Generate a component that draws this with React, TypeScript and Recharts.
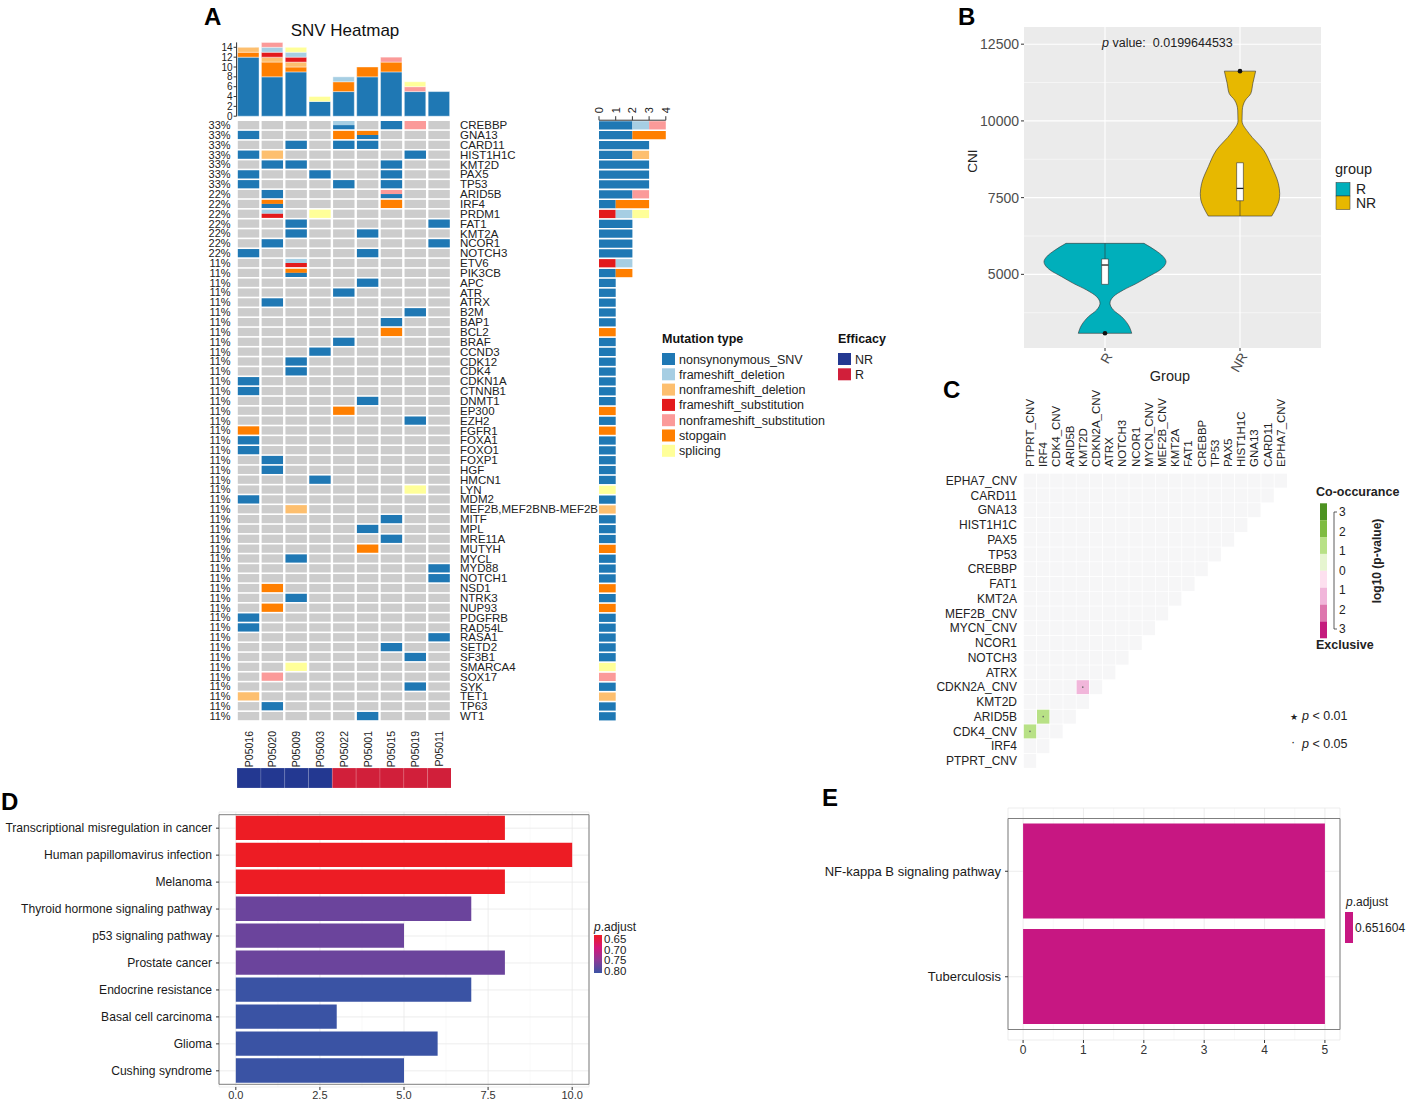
import React from "react";
import {
  BarChart,
  Bar,
  XAxis,
  YAxis,
  Cell,
  ScatterChart,
  Scatter,
  ComposedChart,
  Area,
  CartesianGrid,
  ReferenceLine,
  ReferenceArea,
  ReferenceDot,
} from "recharts";

const FONT = '"Liberation Sans", Arial, Helvetica, sans-serif';

// ---------- A: SNV heatmap ----------
const samples = ["P05016", "P05020", "P05009", "P05003", "P05022", "P05001", "P05015", "P05019", "P05011"];
const efficacy = ["NR", "NR", "NR", "NR", "R", "R", "R", "R", "R"];
const efficacyColors: Record<string, string> = { NR: "#233891", R: "#d11f3a" };

const mutationNames = [
  "nonsynonymous_SNV",
  "frameshift_deletion",
  "nonframeshift_deletion",
  "frameshift_substitution",
  "nonframeshift_substitution",
  "stopgain",
  "splicing",
];
const mutationCodes = ["N", "FD", "ND", "FS", "NS", "SG", "SP"];
const mutationColors = ["#1f78b4", "#a6cee3", "#fdbf6f", "#e31a1c", "#fb9a99", "#ff7f00", "#ffff99"];
const topStackOrder = ["N", "SG", "ND", "FS", "FD", "NS", "SP"];
const sideStackOrder = ["N", "FS", "FD", "ND", "SG", "NS", "SP"];
const topTicks = [0, 2, 4, 6, 8, 10, 12, 14];
const sideTicks = [0, 1, 2, 3, 4];

const genes = [
  "CREBBP", "GNA13", "CARD11", "HIST1H1C", "KMT2D", "PAX5", "TP53", "ARID5B", "IRF4", "PRDM1",
  "FAT1", "KMT2A", "NCOR1", "NOTCH3", "ETV6", "PIK3CB", "APC", "ATR", "ATRX", "B2M",
  "BAP1", "BCL2", "BRAF", "CCND3", "CDK12", "CDK4", "CDKN1A", "CTNNB1", "DNMT1", "EP300",
  "EZH2", "FGFR1", "FOXA1", "FOXO1", "FOXP1", "HGF", "HMCN1", "LYN", "MDM2", "MEF2B,MEF2BNB-MEF2B",
  "MITF", "MPL", "MRE11A", "MUTYH", "MYCL", "MYD88", "NOTCH1", "NSD1", "NTRK3", "NUP93",
  "PDGFRB", "RAD54L", "RASA1", "SETD2", "SF3B1", "SMARCA4", "SOX17", "SYK", "TET1", "TP63",
  "WT1",
];

// one token per sample: "." = none, "A/B" = two hits drawn top/bottom
const geneCalls = [
  ". . . . FD/N . N NS .", // CREBBP
  "N . . . SG SG/N . . .", // GNA13
  ". . N . N N . . .", // CARD11
  "N ND . . . . . N .", // HIST1H1C
  ". N N . . . N . .", // KMT2D
  "N . . N . . N . .", // PAX5
  "N . . . N . N . .", // TP53
  ". N . . . . NS/N . .", // ARID5B
  ". SG/N . . . . SG . .", // IRF4
  ". FD/FS . SP . . . . .", // PRDM1
  ". . N . . . . . N", // FAT1
  ". . N . . N . . .", // KMT2A
  ". N . . . . . . N", // NCOR1
  "N . . . . N . . .", // NOTCH3
  ". . FD/FS . . . . . .", // ETV6
  ". . SG/N . . . . . .", // PIK3CB
  ". . . . . N . . .", // APC
  ". . . . N . . . .", // ATR
  ". N . . . . . . .", // ATRX
  ". . . . . . . N .", // B2M
  ". . . . . . N . .", // BAP1
  ". . . . . . SG . .", // BCL2
  ". . . . N . . . .", // BRAF
  ". . . N . . . . .", // CCND3
  ". . N . . . . . .", // CDK12
  ". . N . . . . . .", // CDK4
  "N . . . . . . . .", // CDKN1A
  "N . . . . . . . .", // CTNNB1
  ". . . . . N . . .", // DNMT1
  ". . . . SG . . . .", // EP300
  ". . . . . . . N .", // EZH2
  "SG . . . . . . . .", // FGFR1
  "N . . . . . . . .", // FOXA1
  "N . . . . . . . .", // FOXO1
  ". N . . . . . . .", // FOXP1
  ". N . . . . . . .", // HGF
  ". . . N . . . . .", // HMCN1
  ". . . . . . . SP .", // LYN
  "N . . . . . . . .", // MDM2
  ". . ND . . . . . .", // MEF2B,MEF2BNB-MEF2B
  ". . . . . . N . .", // MITF
  ". . . . . N . . .", // MPL
  ". . . . . . N . .", // MRE11A
  ". . . . . SG . . .", // MUTYH
  ". . N . . . . . .", // MYCL
  ". . . . . . . . N", // MYD88
  ". . . . . . . . N", // NOTCH1
  ". SG . . . . . . .", // NSD1
  ". . N . . . . . .", // NTRK3
  ". SG . . . . . . .", // NUP93
  "N . . . . . . . .", // PDGFRB
  "N . . . . . . . .", // RAD54L
  ". . . . . . . . N", // RASA1
  ". . . . . . N . .", // SETD2
  ". . . . . . . N .", // SF3B1
  ". . SP . . . . . .", // SMARCA4
  ". NS . . . . . . .", // SOX17
  ". . . . . . . N .", // SYK
  "ND . . . . . . . .", // TET1
  ". N . . . . . . .", // TP63
  ". . . . . N . . .", // WT1
];

// ---------- B: CNI violin ----------
const cniTicks = [5000, 7500, 10000, 12500];
const cniMinor = [3750, 6250, 8750, 11250];
const groupNames = ["R", "NR"];
const groupColors = ["#00AFBB", "#E7B800"];
// half-width of the violin (in group units) at each CNI value
const violinR = [
  { cni: 3079, w: 0.198 }, { cni: 3350, w: 0.173 }, { cni: 3621, w: 0.123 }, { cni: 3838, w: 0.062 },
  { cni: 4056, w: 0.037 }, { cni: 4273, w: 0.062 }, { cni: 4490, w: 0.136 }, { cni: 4707, w: 0.235 },
  { cni: 4924, w: 0.321 }, { cni: 5141, w: 0.407 }, { cni: 5412, w: 0.452 }, { cni: 5575, w: 0.432 },
  { cni: 5792, w: 0.37 }, { cni: 6010, w: 0.289 },
];
const violinNR = [
  { cni: 6900, w: 0.235 }, { cni: 7204, w: 0.272 }, { cni: 7421, w: 0.29 }, { cni: 7638, w: 0.294 },
  { cni: 7964, w: 0.284 }, { cni: 8506, w: 0.235 }, { cni: 9049, w: 0.175 }, { cni: 9592, w: 0.067 },
  { cni: 10000, w: 0.015 }, { cni: 10352, w: 0.017 }, { cni: 10677, w: 0.04 }, { cni: 10894, w: 0.08 },
  { cni: 11220, w: 0.095 }, { cni: 11622, w: 0.116 },
];
const boxStats = [
  { center: 1, q1: 4674, median: 5304, q3: 5500, lower: 4674, upper: 6010, outlier: 3079 },
  { center: 2, q1: 7399, median: 7800, q3: 8637, lower: 6900, upper: 8637, outlier: 11622 },
];

// ---------- C: somatic interactions ----------
const coGenes = [
  "PTPRT_CNV", "IRF4", "CDK4_CNV", "ARID5B", "KMT2D", "CDKN2A_CNV", "ATRX", "NOTCH3", "NCOR1", "MYCN_CNV",
  "MEF2B_CNV", "KMT2A", "FAT1", "CREBBP", "TP53", "PAX5", "HIST1H1C", "GNA13", "CARD11", "EPHA7_CNV",
];
const coSignificant = [
  { a: "ARID5B", b: "IRF4", log10p: 1.5 },
  { a: "CDK4_CNV", b: "PTPRT_CNV", log10p: 1.5 },
  { a: "CDKN2A_CNV", b: "KMT2D", log10p: -1.5 },
];
const coLegendColors = ["#4d9221", "#7fbc41", "#b8e186", "#e6f5d0", "#fde0ef", "#f1b6da", "#de77ae", "#c51b7d"];
const coLegendLabels = ["3", "2", "1", "0", "1", "2", "3"];

// ---------- D: KEGG enrichment ----------
const keggTerms = [
  "Transcriptional misregulation in cancer",
  "Human papillomavirus infection",
  "Melanoma",
  "Thyroid hormone signaling pathway",
  "p53 signaling pathway",
  "Prostate cancer",
  "Endocrine resistance",
  "Basal cell carcinoma",
  "Glioma",
  "Cushing syndrome",
];
const keggCounts = [8, 10, 8, 7, 5, 8, 7, 3, 6, 5];
const keggPadj = [0.648, 0.648, 0.648, 0.77, 0.77, 0.77, 0.805, 0.805, 0.805, 0.805];
const keggTicks = [0, 2.5, 5, 7.5, 10];
const padjLegend = ["0.65", "0.70", "0.75", "0.80"];

// ---------- E: NF-kappa B enrichment ----------
const nfTerms = ["NF-kappa B signaling pathway", "Tuberculosis"];
const nfCounts = [5, 5];
const nfPadj = "0.651604";
const nfTicks = [0, 1, 2, 3, 4, 5];

// ---------- derived tables ----------
const colorOf = (code: string) => mutationColors[mutationCodes.indexOf(code)];
const calls = geneCalls.map((row) => row.split(" ").map((t) => (t === "." ? [] : t.split("/"))));
const heatCells = calls.flatMap((row, gi) => row.map((hits, si) => ({ x: si, y: gi, hits })));
const sampleTotals = samples.map((s, si) => {
  const d: Record<string, any> = { sample: s };
  mutationCodes.forEach((c) => (d[c] = 0));
  calls.forEach((row) => row[si].forEach((c) => d[c]++));
  return d;
});
const geneTotals = genes.map((g, gi) => {
  const d: Record<string, any> = { gene: g };
  mutationCodes.forEach((c) => (d[c] = 0));
  calls[gi].forEach((hits) => hits.forEach((c) => d[c]++));
  return d;
});
const genePct = calls.map((row) => Math.round((row.filter((h) => h.length).length / samples.length) * 100) + "%");
const efficacyRows = samples.map((s, i) => ({ sample: s, v: 1, group: efficacy[i] }));

const violins = [violinR, violinNR].map((pts, gi) => ({
  center: gi + 1,
  color: groupColors[gi],
  data: pts.map((d) => ({ cni: d.cni, span: [gi + 1 - d.w, gi + 1 + d.w] })),
  ends: [pts[0], pts[pts.length - 1]],
  box: boxStats[gi],
}));

const coValue = (r: string, c: string) => {
  const hit = coSignificant.find((s) => (s.a === r && s.b === c) || (s.a === c && s.b === r));
  return hit ? hit.log10p : 0;
};
const coCells = coGenes.flatMap((rg, r) => coGenes.slice(0, r + 1).map((cg, c) => ({ x: c, y: r, v: coValue(rg, cg) })));
const coColor = (v: number) => {
  if (v >= 2.5) return coLegendColors[0];
  if (v >= 1.75) return coLegendColors[1];
  if (v >= 1) return coLegendColors[2];
  if (v <= -2.5) return coLegendColors[7];
  if (v <= -1.75) return coLegendColors[6];
  if (v <= -1) return coLegendColors[5];
  return "#f6f6f7";
};

const keggRows = keggTerms.map((t, i) => ({ term: t, count: keggCounts[i], padj: keggPadj[i] }));
const nfRows = nfTerms.map((t, i) => ({ term: t, count: nfCounts[i] }));

const padjStops = [
  { p: 0.65, c: [237, 28, 36] },
  { p: 0.7, c: [212, 22, 122] },
  { p: 0.75, c: [140, 58, 150] },
  { p: 0.8, c: [58, 83, 164] },
];
const padjColor = (p: number) => {
  if (p <= padjStops[0].p) return `rgb(${padjStops[0].c.join(",")})`;
  for (let i = 1; i < padjStops.length; i++) {
    if (p <= padjStops[i].p) {
      const a = padjStops[i - 1], b = padjStops[i];
      const t = (p - a.p) / (b.p - a.p);
      return `rgb(${a.c.map((v, k) => Math.round(v + (b.c[k] - v) * t)).join(",")})`;
    }
  }
  return `rgb(${padjStops[padjStops.length - 1].c.join(",")})`;
};

// ---------- geometry ----------
const COL_W = 214.4 / samples.length;
const ROW_H = 9.85;
const CELL_W = COL_W - 2.4;
const CELL_H = ROW_H - 1.6;
const CO_W = 264 / coGenes.length;
const CO_H = 295 / coGenes.length;

const rotTick = (label: (v: any) => string, angle: number, anchor: string, fontSize: number, fill: string, dx = 0, dy = 0) =>
  (p: any) => {
    const x = p.x + dx;
    const y = p.y + dy;
    return (
      <text x={x} y={y} transform={`rotate(${angle} ${x} ${y})`} textAnchor={anchor} dominantBaseline="central"
        fontSize={fontSize} fill={fill} fontFamily={FONT}>
        {label(p.payload.value)}
      </text>
    );
  };

// plain one-line category label (no wrapping)
const lineTick = (fontSize: number, fill: string) => (p: any) => (
  <text x={p.x} y={p.y} textAnchor="end" dominantBaseline="central" fontSize={fontSize} fill={fill} fontFamily={FONT}>
    {p.payload.value}
  </text>
);

const HeatCell = (props: any) => {
  const { cx, cy, payload } = props;
  const hits: string[] = payload.hits;
  const x0 = cx - CELL_W / 2;
  const y0 = cy - CELL_H / 2;
  if (!hits.length) return <rect x={x0} y={y0} width={CELL_W} height={CELL_H} fill="#cccccc" />;
  const h = CELL_H / hits.length;
  return (
    <g>
      {hits.map((c, i) => (
        <rect key={i} x={x0} y={y0 + i * h} width={CELL_W} height={h} fill={colorOf(c)} />
      ))}
    </g>
  );
};

const CoCell = (props: any) => {
  const { cx, cy, payload } = props;
  const w = CO_W - 0.8;
  const h = CO_H - 0.8;
  return (
    <g>
      <rect x={cx - w / 2} y={cy - h / 2} width={w} height={h} fill={coColor(payload.v)} />
      {Math.abs(payload.v) >= 1.3 && <circle cx={cx} cy={cy} r={0.8} fill="#666" />}
    </g>
  );
};

const at = (left: number, top: number, child: React.ReactNode, key?: string) => (
  <div key={key} style={{ position: "absolute", left, top }}>{child}</div>
);

const tickFont = (size: number, fill: string) => ({ fontSize: size, fill, fontFamily: FONT });

// one violin per chart, stacked on the same geometry; the first one carries grid and axes
const ViolinLayer = ({ v, withAxes }: { v: (typeof violins)[number]; withAxes: boolean }) => (
  <ComposedChart layout="vertical" width={383} height={368} data={v.data}
    margin={withAxes ? { top: 7, right: 2, bottom: 0, left: 0 } : { top: 7, right: 2, bottom: 40, left: 84 }}>
    {withAxes && <CartesianGrid fill="#ebebeb" fillOpacity={1} stroke="#fff" strokeWidth={0.5} horizontalValues={cniMinor} vertical={false} />}
    {withAxes && <CartesianGrid stroke="#fff" strokeWidth={1.1} horizontalValues={cniTicks} verticalValues={[1, 2]} />}
    <XAxis type="number" domain={[0.4, 2.6]} ticks={[1, 2]} interval={0} height={40} axisLine={false} hide={!withAxes}
      tickLine={{ stroke: "#333" }} tickSize={3} tickMargin={1}
      tick={rotTick((t) => groupNames[t - 1], -60, "end", 13.5, "#4d4d4d", 4, 2)} />
    <YAxis type="number" dataKey="cni" domain={[2600, 13060]} reversed ticks={cniTicks} interval={0} width={84} hide={!withAxes}
      axisLine={false} tickLine={{ stroke: "#333" }} tickSize={3} tickMargin={2} tick={tickFont(14, "#4d4d4d")} />
    <Area dataKey="span" type="monotone" fill={v.color} fillOpacity={1} stroke="#333" strokeWidth={0.6} isAnimationActive={false} />
    {v.ends.map((e, i) => (
      <ReferenceLine key={"e" + i} segment={[{ x: v.center - e.w, y: e.cni }, { x: v.center + e.w, y: e.cni }]} stroke="#333" strokeWidth={0.6} />
    ))}
    {v.box.upper > v.box.q3 && <ReferenceLine segment={[{ x: v.center, y: v.box.q3 }, { x: v.center, y: v.box.upper }]} stroke="#333" strokeWidth={0.6} />}
    {v.box.lower < v.box.q1 && <ReferenceLine segment={[{ x: v.center, y: v.box.lower }, { x: v.center, y: v.box.q1 }]} stroke="#333" strokeWidth={0.6} />}
    <ReferenceArea x1={v.center - 0.025} x2={v.center + 0.025} y1={v.box.q1} y2={v.box.q3} fill="#fff" fillOpacity={1} stroke="#333" strokeWidth={0.6} />
    <ReferenceLine segment={[{ x: v.center - 0.025, y: v.box.median }, { x: v.center + 0.025, y: v.box.median }]} stroke="#222" strokeWidth={1.3} />
    <ReferenceDot x={v.center} y={v.box.outlier} r={2.3} fill="#111" stroke="none" />
  </ComposedChart>
);

export default function App() {
  return (
    <div style={{ position: "absolute", left: 0, top: 0, width: 1408, height: 1101, background: "#fff", overflow: "hidden" }}>
      {/* A: mutations per sample */}
      {at(195, 35,
        <BarChart width={258} height={88} data={sampleTotals} margin={{ top: 7.4, right: 2, bottom: 6.8, left: 0 }} barSize={CELL_W}>
          <XAxis dataKey="sample" hide />
          <YAxis width={41.6} domain={[0, 15]} ticks={topTicks} interval={0} tick={tickFont(10, "#222")}
            tickSize={3} tickMargin={1} axisLine={{ stroke: "#333" }} tickLine={{ stroke: "#333" }} />
          {topStackOrder.map((c) => (
            <Bar key={c} dataKey={c} stackId="s" fill={colorOf(c)} stroke="#fff" strokeWidth={0.4} isAnimationActive={false} />
          ))}
        </BarChart>
      )}

      {/* A: oncoplot grid */}
      {at(195, 110,
        <ScatterChart width={416} height={666} margin={{ top: 10.2, right: 0, bottom: 0, left: 0 }}>
          <XAxis type="number" dataKey="x" domain={[-0.5, samples.length - 0.5]} ticks={samples.map((_, i) => i)} interval={0}
            height={55} axisLine={false} tickLine={false} tickSize={8} tickMargin={2}
            tick={rotTick((v) => samples[v], -90, "end", 10.5, "#222")} />
          <YAxis yAxisId="pct" type="number" dataKey="y" domain={[-0.5, genes.length - 0.5]} reversed
            ticks={genes.map((_, i) => i)} interval={0} width={41.6} tickFormatter={(v: number) => genePct[Math.round(v)]}
            axisLine={false} tickLine={false} tickSize={4} tickMargin={2} tick={tickFont(11, "#222")} />
          <YAxis yAxisId="gene" orientation="right" type="number" dataKey="y" domain={[-0.5, genes.length - 0.5]} reversed
            ticks={genes.map((_, i) => i)} interval={0} width={160} tickFormatter={(v: number) => genes[Math.round(v)]}
            axisLine={false} tickLine={false} tickSize={7} tickMargin={2} tick={tickFont(11.5, "#222")} />
          <Scatter yAxisId="pct" data={heatCells} shape={HeatCell} isAnimationActive={false} />
          <Scatter yAxisId="gene" data={heatCells.slice(0, 1)} shape={() => <g />} isAnimationActive={false} />
        </ScatterChart>
      )}

      {/* A: efficacy strip */}
      {at(236.6, 768,
        <BarChart width={214.4} height={20} data={efficacyRows} margin={{ top: 0, right: 0, bottom: 0, left: 0 }} barCategoryGap={0}>
          <XAxis dataKey="sample" hide />
          <YAxis hide domain={[0, 1]} />
          <Bar dataKey="v" isAnimationActive={false}>
            {efficacyRows.map((d, i) => (
              <Cell key={i} fill={efficacyColors[d.group]} stroke="rgba(255,255,255,0.3)" strokeWidth={0.6} />
            ))}
          </Bar>
        </BarChart>
      )}

      {/* A: mutations per gene */}
      {at(590, 90,
        <BarChart layout="vertical" width={85.8} height={633.05} data={geneTotals} margin={{ top: 0, right: 10, bottom: 2, left: 9 }} barSize={CELL_H}>
          <XAxis type="number" orientation="top" domain={[0, 4]} ticks={sideTicks} interval={0} height={30.2}
            tickSize={4} tickMargin={3} axisLine={{ stroke: "#333" }} tickLine={{ stroke: "#333" }}
            tick={rotTick((v) => String(v), -90, "start", 11, "#222")} />
          <YAxis type="category" dataKey="gene" hide />
          {sideStackOrder.map((c) => (
            <Bar key={c} dataKey={c} stackId="g" fill={colorOf(c)} isAnimationActive={false} />
          ))}
        </BarChart>
      )}

      {/* B: violins, one layer per group */}
      {violins.map((v, i) => at(940, 20, <ViolinLayer v={v} withAxes={i === 0} />, "violin" + i))}

      {/* C: co-occurrence triangle */}
      {at(900, 378,
        <ScatterChart width={389.4} height={392.3} margin={{ top: 0, right: 2, bottom: 2, left: 0 }}>
          <XAxis type="number" dataKey="x" orientation="top" domain={[-0.5, coGenes.length - 0.5]} ticks={coGenes.map((_, i) => i)}
            interval={0} height={95.3} axisLine={false} tickLine={false} tickSize={4} tickMargin={2.3}
            tick={rotTick((v) => coGenes[v], -90, "start", 11.5, "#222")} />
          <YAxis type="number" dataKey="y" domain={[-0.5, coGenes.length - 0.5]} ticks={coGenes.map((_, i) => i)} interval={0}
            width={123.4} tickFormatter={(v: number) => coGenes[Math.round(v)]} axisLine={false} tickLine={false}
            tickSize={4} tickMargin={2.4} tick={tickFont(12, "#222")} />
          <Scatter data={coCells} shape={CoCell} isAnimationActive={false} />
        </ScatterChart>
      )}

      {/* D: KEGG bar plot */}
      {at(0, 805,
        <BarChart layout="vertical" width={592} height={296} data={keggRows} margin={{ top: 7, right: 3, bottom: 0, left: 0 }} barSize={24.3}>
          <CartesianGrid stroke="#f3f3f3" strokeWidth={0.5} verticalValues={[1.25, 3.75, 6.25, 8.75]} horizontal={false} />
          <CartesianGrid stroke="#e8e8e8" strokeWidth={0.8} />
          <XAxis type="number" domain={[-0.5, 10.5]} ticks={keggTicks} interval={0} tickFormatter={(v: number) => v.toFixed(1)}
            height={14} tickSize={3} tickMargin={1} axisLine={false} tickLine={{ stroke: "#333" }} tick={tickFont(11, "#333")} />
          <YAxis type="category" dataKey="term" width={219} padding={{ top: 2.7, bottom: 2.7 }} interval={0} tickSize={3}
            tickMargin={4} axisLine={false} tickLine={{ stroke: "#333" }} tick={lineTick(12.1, "#1a1a1a")} />
          <ReferenceArea x1={-0.5} x2={10.5} fill="none" stroke="#7f7f7f" strokeWidth={1} />
          <Bar dataKey="count" isAnimationActive={false}>
            {keggRows.map((d, i) => (
              <Cell key={i} fill={padjColor(d.padj)} />
            ))}
          </Bar>
        </BarChart>
      )}

      {/* E: NF-kappa B bar plot */}
      {at(800, 801,
        <BarChart layout="vertical" width={545} height={259} data={nfRows} margin={{ top: 7, right: 5, bottom: 0, left: 0 }} barSize={95}>
          <CartesianGrid stroke="#f3f3f3" strokeWidth={0.5} verticalValues={[0.5, 1.5, 2.5, 3.5, 4.5]} horizontal={false} />
          <CartesianGrid stroke="#e8e8e8" strokeWidth={0.8} />
          <XAxis type="number" domain={[-0.25, 5.25]} ticks={nfTicks} interval={0} height={20} tickSize={3} tickMargin={2}
            axisLine={false} tickLine={{ stroke: "#333" }} tick={tickFont(12, "#333")} />
          <YAxis type="category" dataKey="term" width={208} padding={{ top: 10.5, bottom: 10.5 }} interval={0} tickSize={3}
            tickMargin={4} axisLine={false} tickLine={{ stroke: "#333" }} tick={lineTick(13, "#1a1a1a")} />
          <ReferenceArea x1={-0.25} x2={5.25} fill="none" stroke="#7f7f7f" strokeWidth={1} />
          <Bar dataKey="count" fill="#c71782" isAnimationActive={false} />
        </BarChart>
      )}

      {/* titles, legends, panel letters */}
      <svg width={1408} height={1101} style={{ position: "absolute", left: 0, top: 0, pointerEvents: "none" }} fontFamily={FONT}>
        <defs>
          <linearGradient id="padjGrad" x1="0" y1="0" x2="0" y2="1">
            {padjStops.map((s, i) => (
              <stop key={i} offset={`${(i / (padjStops.length - 1)) * 100}%`} stopColor={`rgb(${s.c.join(",")})`} />
            ))}
          </linearGradient>
        </defs>
        {[["A", 204, 25], ["B", 958, 25], ["C", 943, 398], ["D", 1, 810], ["E", 822, 806]].map(([t, x, y]) => (
          <text key={t as string} x={x as number} y={y as number} fontSize={24} fontWeight="bold" fill="#000">{t}</text>
        ))}

        <text x={345} y={36} fontSize={17} textAnchor="middle" fill="#111">SNV Heatmap</text>

        <text x={662} y={343} fontSize={12.5} fontWeight="bold" fill="#111">Mutation type</text>
        {mutationNames.map((m, i) => (
          <g key={m}>
            <rect x={662} y={353 + i * 15.3} width={13} height={12} fill={mutationColors[i]} />
            <text x={679} y={363.5 + i * 15.3} fontSize={12.5} fill="#222">{m}</text>
          </g>
        ))}
        <text x={838} y={343} fontSize={12.5} fontWeight="bold" fill="#111">Efficacy</text>
        {["NR", "R"].map((g, i) => (
          <g key={g}>
            <rect x={838} y={353 + i * 15.3} width={13} height={12} fill={efficacyColors[g]} />
            <text x={855} y={363.5 + i * 15.3} fontSize={12.5} fill="#222">{g}</text>
          </g>
        ))}

        <text x={1102} y={47} fontSize={12.5} fill="#222">
          <tspan fontStyle="italic">p</tspan>
          <tspan> value:</tspan>
          <tspan dx={7}>0.0199644533</tspan>
        </text>
        <text x={977} y={161} transform="rotate(-90 977 161)" fontSize={13.5} textAnchor="middle" fill="#222">CNI</text>
        <text x={1170} y={381} fontSize={14.5} textAnchor="middle" fill="#222">Group</text>
        <text x={1335} y={174} fontSize={14.5} fill="#222">group</text>
        {groupNames.map((g, i) => (
          <g key={g}>
            <rect x={1336} y={182.5 + i * 13.5} width={14} height={13.5} fill={groupColors[i]} stroke="#333" strokeWidth={0.5} />
            <text x={1356} y={194 + i * 13.5} fontSize={14} fill="#222">{g}</text>
          </g>
        ))}

        <text x={1316} y={496} fontSize={12.5} fontWeight="bold" fill="#222">Co-occurance</text>
        {coLegendColors.map((c, i) => (
          <rect key={c} x={1320} y={503.3 + i * 16.875} width={7} height={16.875} fill={c} />
        ))}
        <path d="M1337 512 H1334 V629 H1337" fill="none" stroke="#333" strokeWidth={0.8} />
        {coLegendLabels.map((l, i) => (
          <text key={i} x={1339} y={512 + i * 19.5} fontSize={12} dominantBaseline="central" fill="#222">{l}</text>
        ))}
        <text x={1316} y={649} fontSize={12.5} fontWeight="bold" fill="#222">Exclusive</text>
        <text x={1381} y={561} transform="rotate(-90 1381 561)" fontSize={12} fontWeight="bold" textAnchor="middle" fill="#222">log10 (p-value)</text>
        <text x={1290} y={720} fontSize={9} fill="#222">★</text>
        <text x={1302} y={720} fontSize={12.5} fill="#222"><tspan fontStyle="italic">p</tspan> &lt; 0.01</text>
        <text x={1291} y={746} fontSize={12.5} fill="#222">·</text>
        <text x={1302} y={748} fontSize={12.5} fill="#222"><tspan fontStyle="italic">p</tspan> &lt; 0.05</text>

        <text x={594} y={931} fontSize={12} fill="#222"><tspan fontStyle="italic">p</tspan>.adjust</text>
        <rect x={594} y={935} width={8} height={38} fill="url(#padjGrad)" />
        {padjLegend.map((l, i) => (
          <text key={l} x={604} y={939 + i * 10.5} fontSize={11.5} dominantBaseline="central" fill="#222">{l}</text>
        ))}

        <text x={1346} y={906} fontSize={12} fill="#222"><tspan fontStyle="italic">p</tspan>.adjust</text>
        <rect x={1345} y={912} width={8} height={31} fill="#c71782" />
        <text x={1355} y={927.5} fontSize={12} dominantBaseline="central" fill="#222">{nfPadj}</text>
      </svg>
    </div>
  );
}
